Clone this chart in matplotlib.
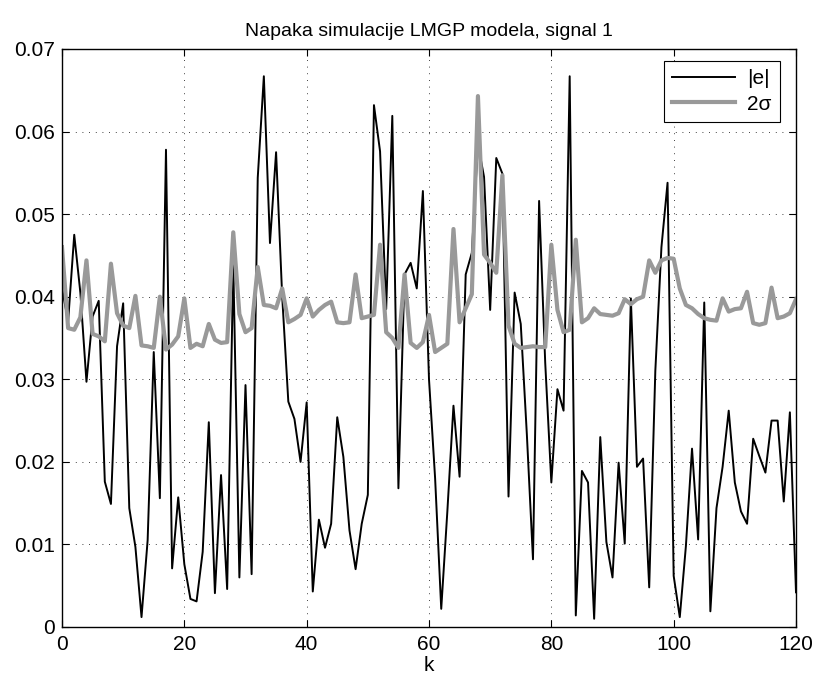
import numpy as np
import matplotlib
matplotlib.use('Agg')
import matplotlib.pyplot as plt

plt.rcParams['font.family'] = ['Liberation Sans', 'DejaVu Sans']

# |e| - absolute simulation error
err = [0.041, 0.037, 0.0475, 0.0405, 0.0297, 0.0376, 0.0395, 0.0176, 0.0149, 0.034,
       0.0392, 0.0144, 0.0097, 0.0012, 0.0105, 0.0333, 0.0156, 0.0578, 0.0071, 0.0157,
       0.0076, 0.0034, 0.0031, 0.0091, 0.0248, 0.0041, 0.0184, 0.0046, 0.044, 0.006,
       0.0293, 0.0064, 0.0544, 0.0667, 0.0465, 0.0575, 0.040, 0.0273, 0.0252, 0.0200,
       0.0272, 0.0043, 0.013, 0.0096, 0.0125, 0.0254, 0.0206, 0.0117, 0.0070, 0.0125,
       0.016, 0.0632, 0.0576, 0.0385, 0.0619, 0.0168, 0.0427, 0.0441, 0.0410, 0.0528,
       0.030, 0.018, 0.0022, 0.014, 0.0268, 0.0182, 0.0427, 0.0453, 0.0585, 0.0545,
       0.0384, 0.0568, 0.0549, 0.0158, 0.0405, 0.0367, 0.0233, 0.0082, 0.0516, 0.032,
       0.0175, 0.0288, 0.0262, 0.0667, 0.0014, 0.0189, 0.0175, 0.0010, 0.023, 0.0103,
       0.006, 0.0199, 0.0101, 0.0398, 0.0194, 0.0204, 0.0048, 0.031, 0.046, 0.0538,
       0.0062, 0.0012, 0.0098, 0.0216, 0.0106, 0.0393, 0.0019, 0.0144, 0.0194, 0.0262,
       0.0175, 0.0140, 0.0125, 0.0228, 0.0207, 0.0187, 0.025, 0.025, 0.0152, 0.026,
       0.0042]

# 2 sigma - predicted standard deviation band
sig2 = [0.046, 0.0362, 0.036, 0.0375, 0.0444, 0.0355, 0.0352, 0.0346, 0.044, 0.038,
        0.0365, 0.0362, 0.0401, 0.0341, 0.034, 0.0338, 0.040, 0.0336, 0.0342, 0.0352,
        0.0398, 0.0338, 0.0343, 0.034, 0.0367, 0.0348, 0.0344, 0.0345, 0.0478, 0.0379,
        0.0357, 0.0362, 0.0436, 0.039, 0.0389, 0.0386, 0.041, 0.0369, 0.0373, 0.0378,
        0.0398, 0.0376, 0.0384, 0.0390, 0.0394, 0.0369, 0.0368, 0.0369, 0.0427, 0.0374,
        0.0376, 0.0378, 0.0463, 0.0357, 0.035, 0.0338, 0.0427, 0.0344, 0.0338, 0.0345,
        0.0378, 0.0333, 0.0338, 0.0343, 0.0482, 0.0369, 0.0386, 0.0403, 0.0643, 0.0451,
        0.0441, 0.0429, 0.0547, 0.0365, 0.0343, 0.0338, 0.0339, 0.034, 0.0339, 0.0339,
        0.0463, 0.0384, 0.0357, 0.036, 0.0469, 0.0369, 0.0374, 0.0386, 0.0379, 0.0378,
        0.0377, 0.038, 0.0397, 0.0391, 0.0397, 0.040, 0.0444, 0.0429, 0.0444, 0.0447,
        0.0446, 0.041, 0.039, 0.0386, 0.0379, 0.0374, 0.0372, 0.0371, 0.0398, 0.0382,
        0.0385, 0.0386, 0.0406, 0.0368, 0.0366, 0.0368, 0.0411, 0.0374, 0.0376, 0.038,
        0.0397]

k = np.arange(len(err))

xticks = [0, 20, 40, 60, 80, 100, 120]
yticks = [0, 0.01, 0.02, 0.03, 0.04, 0.05, 0.06, 0.07]
ylabels = ['0', '0.01', '0.02', '0.03', '0.04', '0.05', '0.06', '0.07']

fig = plt.figure(figsize=(8.17, 6.83), dpi=100)
ax = fig.add_axes([62 / 817, 56 / 683, 734 / 817, 578 / 683])

ax.plot(k, err, color='black', lw=1.4, label='|e|')
ax.plot(k, sig2, color='#999999', lw=3.0, label='2σ')

ax.set_xlim(0, 120)
ax.set_ylim(0, 0.07)
ax.set_xticks(xticks)
ax.set_yticks(yticks)
ax.set_yticklabels(ylabels)
ax.tick_params(direction='in', length=5, width=0.8, top=True, right=True,
               labelsize=15)
ax.tick_params(axis='x', pad=6)
ax.tick_params(axis='y', pad=5)
ax.grid(True, color='black', linestyle=(0, (1, 7)), linewidth=0.6)
for s in ax.spines.values():
    s.set_linewidth(1.0)

ax.set_title('Napaka simulacije LMGP modela, signal 1', fontsize=14, pad=9)
ax.set_xlabel('k', fontsize=15, labelpad=1)

leg = ax.legend(loc='upper right', bbox_to_anchor=(0.978, 0.979), fontsize=15,
                fancybox=False, framealpha=1, edgecolor='black', handlelength=3.0,
                borderaxespad=0, borderpad=0.4, labelspacing=0.3, handletextpad=0.6)
leg.get_frame().set_linewidth(0.8)

fig.savefig('out.png', dpi=100)
